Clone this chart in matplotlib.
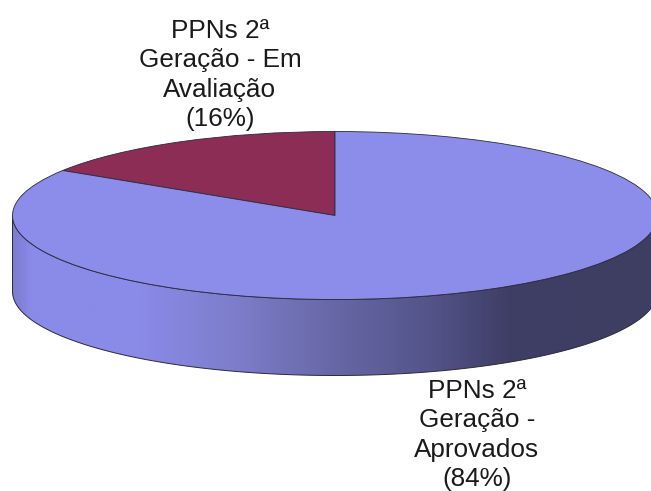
import numpy as np
import matplotlib
matplotlib.use("Agg")
import matplotlib.pyplot as plt
from matplotlib.colors import LinearSegmentedColormap
from matplotlib.patches import Polygon

labels = ["PPNs 2ª\nGeração - Em\nAvaliação\n(16%)", "PPNs 2ª\nGeração -\nAprovados\n(84%)"]
values = [16, 84]
colors = ["#8C2D55", "#8C8CEB"]

W, H = 651, 491
cx, cy, rx, ry, depth = 335.0, 215.5, 322.5, 84.0, 76.0
EDGE = "#2a2a3a"

plt.rcParams["font.family"] = ["Liberation Sans", "DejaVu Sans"]
fig = plt.figure(figsize=(W / 100, H / 100), dpi=100)
ax = fig.add_axes([0, 0, 1, 1])

# side wall (lower half of the ellipse, shifted down by the depth)
t = np.linspace(np.pi, 2 * np.pi, 400)
top_x, top_y = np.cos(t), np.sin(t)
bot_y = top_y - depth / ry
wall = np.column_stack([np.r_[top_x, top_x[::-1]], np.r_[top_y, bot_y[::-1]]])

stops = [(12, "#7c7cd0"), (30, "#8a8ae8"), (140, "#8a8ae8"), (230, "#7e7ecc"),
         (330, "#6868a8"), (430, "#54548a"), (510, "#3e3e66"), (651, "#3e3e62")]
cmap = LinearSegmentedColormap.from_list(
    "wall", [((p - 12) / (651 - 12), c) for p, c in stops])
grad = np.linspace(0, 1, 640).reshape(1, -1)
xl = ((12 - cx) / rx, (651 - cx) / rx)
im = ax.imshow(grad, cmap=cmap, aspect="auto", interpolation="bilinear",
               extent=[xl[0], xl[1], -(depth + ry) / ry - 0.1, 0.1], zorder=1)
poly = Polygon(wall, closed=True, facecolor="none", edgecolor=EDGE, lw=0.7, zorder=2)
ax.add_patch(poly)
im.set_clip_path(poly)

# top face
wedges, _ = ax.pie(values, colors=colors, startangle=90, counterclock=True,
                   radius=1, center=(0, 0), frame=True,
                   wedgeprops=dict(edgecolor=EDGE, linewidth=0.6, zorder=3))

ax.set_aspect("auto")
ax.set_xlim(-cx / rx, (W - cx) / rx)
ax.set_ylim(-(H - cy) / ry, cy / ry)
ax.axis("off")

# labels, placed in axes fractions
ax.text(220 / W, 1 - 75 / H, labels[0], transform=ax.transAxes, ha="center", va="center",
        fontsize=18.8, linespacing=1.28, color="#1a1a1a", zorder=5)
ax.text(477 / W, 1 - 435 / H, labels[1], transform=ax.transAxes, ha="center", va="center",
        fontsize=18.8, linespacing=1.28, color="#1a1a1a", zorder=5)

fig.savefig("out.png", dpi=100, facecolor="white")
